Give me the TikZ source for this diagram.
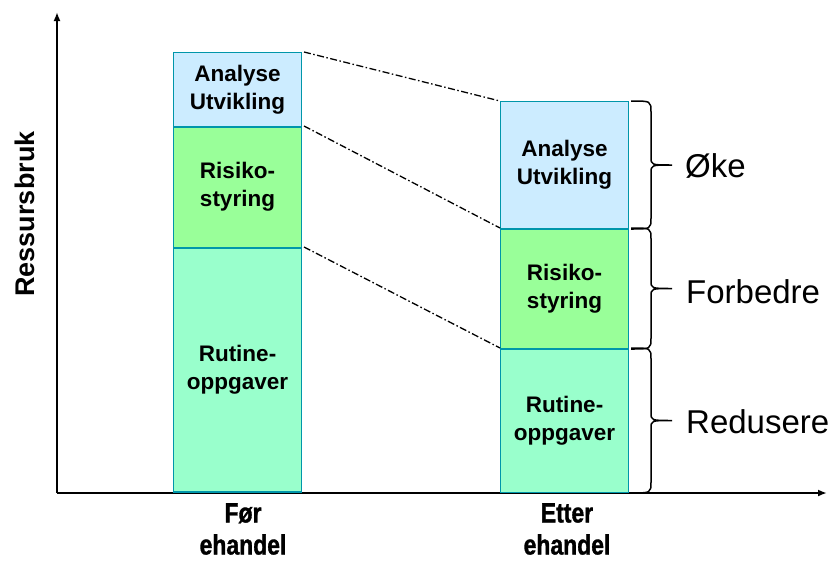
\documentclass[tikz,border=0pt]{standalone}
\usepackage{fontspec}
\setmainfont{Liberation Sans}
\newfontfamily\narrowbold[FakeStretch=0.82,FakeBold=1.2]{Liberation Sans Bold}
\usetikzlibrary{arrows.meta,calc}
\definecolor{bluebox}{RGB}{204,236,255}
\definecolor{greenbox}{RGB}{153,255,153}
\definecolor{mintbox}{RGB}{153,255,204}
\definecolor{edgeteal}{RGB}{0,150,170}
\newcommand\curlybrace[2]{%
  \draw[bracestyle] let \p1=(#1), \p2=(#2), \p3=($(#1)!0.5!(#2)$) in
    (\x1+2pt,\y1) .. controls (\x1+22pt,\y1) .. (\x1+22pt,\y1-11pt)
    -- (\x1+22pt,\y3+8pt) .. controls (\x1+22pt,\y3) .. (\x1+43pt,\y3)
    .. controls (\x1+22pt,\y3) .. (\x1+22pt,\y3-8pt)
    -- (\x1+22pt,\y2+11pt) .. controls (\x1+22pt,\y2) .. (\x1+2pt,\y2);}
\begin{document}
\begin{tikzpicture}[x=1pt,y=-1pt,
  seg/.style={draw=edgeteal, line width=1pt, inner sep=0pt, minimum width=128pt,
    anchor=north west, align=center, font=\bfseries\fontsize{22.5}{28}\selectfont},
  divider/.style={draw=edgeteal, line width=2.2pt},
  conn/.style={draw=black, line width=1.3pt, dash pattern=on 7pt off 2.5pt on 1.5pt off 2.5pt},
  axis/.style={draw=black, line width=2pt, -{Latex[length=9pt,width=7pt]}},
  bracestyle/.style={draw=black, line width=1.5pt},
  sidelab/.style={anchor=base west, inner sep=0pt, font=\fontsize{33}{38}\selectfont},
  catlab/.style={align=center, inner sep=0pt, font=\narrowbold\fontsize{28}{32}\selectfont}]
\useasboundingbox (0,0) rectangle (836,562);
% axes
\coordinate (O) at (57,493);
\coordinate (Y) at (57,12);
\coordinate (X) at (827,493);
\draw[axis] (O) -- (Y);
\draw[axis] (O) -- (X);
% left bar
\node[seg, fill=bluebox, minimum height=74pt] (a1) at (173,52) {Analyse\\Utvikling};
\node[seg, fill=greenbox, minimum height=121pt] (a2) at (173,126) {Risiko-\\styring};
\node[seg, fill=mintbox, minimum height=245pt] (a3) at (173,247) {Rutine-\\oppgaver};
% right bar
\node[seg, fill=bluebox, minimum height=127pt] (b1) at (500,101) {Analyse\\Utvikling};
\node[seg, fill=greenbox, minimum height=120pt] (b2) at (500,228) {Risiko-\\styring};
\node[seg, fill=mintbox, minimum height=144pt] (b3) at (500,348) {Rutine-\\oppgaver};
% dividers
\draw[divider] (a1.south west) -- (a1.south east);
\draw[divider] (a2.south west) -- (a2.south east);
\draw[divider] ([yshift=1pt]a3.south west) -- ([yshift=1pt]a3.south east);
\draw[divider] (b1.south west) -- (b1.south east);
\draw[divider] (b2.south west) -- (b2.south east);
% connectors
\draw[conn] ([xshift=2pt]a1.north east) -- (b1.north west);
\draw[conn] ([xshift=2pt]a2.north east) -- (b2.north west);
\draw[conn] ([xshift=2pt]a3.north east) -- (b3.north west);
% braces
\curlybrace{b1.north east}{b1.south east}
\curlybrace{b2.north east}{b2.south east}
\curlybrace{b3.north east}{b3.south east}
% side labels
\node[sidelab] (s1) at (685,177) {Øke};
\node[sidelab] (s2) at (686,303) {Forbedre};
\node[sidelab] (s3) at (686,433) {Redusere};
% category labels
\node[catlab] (c1) at (243,529) {Før\\ehandel};
\node[catlab] (c2) at (567,529) {Etter\\ehandel};
% y-axis label
\node[rotate=90, inner sep=0pt, font=\bfseries\fontsize{27}{30}\selectfont] (yl) at (25,214) {Ressursbruk};
\end{tikzpicture}
\end{document}
